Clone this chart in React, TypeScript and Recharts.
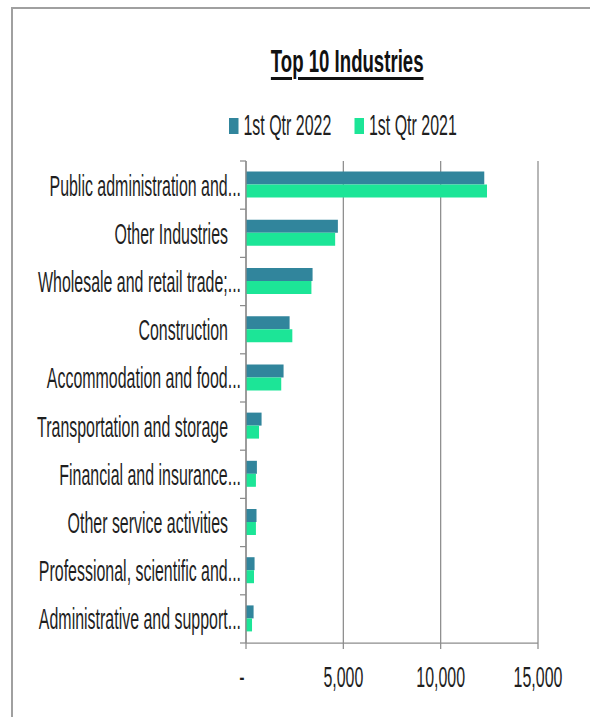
import React from 'react';
import { BarChart, Bar, XAxis, YAxis, CartesianGrid } from 'recharts';

const categories = [
  'Public administration and...',
  'Other Industries',
  'Wholesale and retail trade;...',
  'Construction',
  'Accommodation and food...',
  'Transportation and storage',
  'Financial and insurance...',
  'Other service activities',
  'Professional, scientific and...',
  'Administrative and support...',
];
const q1_2022 = [12240, 4720, 3420, 2240, 1930, 800, 560, 540, 440, 390];
const q1_2021 = [12380, 4580, 3360, 2380, 1810, 670, 510, 510, 410, 310];
const xTicks = [0, 5000, 10000, 15000];
const seriesNames = ['1st Qtr 2022', '1st Qtr 2021'];
const seriesKeys = ['q2022', 'q2021'];
const seriesColors = ['#31859C', '#1CE597'];
const title = 'Top 10 Industries';

const data = categories.map((name, i) => ({ name, q2022: q1_2022[i], q2021: q1_2021[i] }));

const FONT = '"Liberation Sans", Arial, sans-serif';
const FS = 29.5;
const SX = 0.541;
const TEXT = '#1f1f1f';
const GRID = '#8c8c8c';

const YTick = (props: any) => {
  const { x, y, payload, index, height } = props;
  const label: string = String(payload.value);
  const trunc = label.endsWith('...');
  const off = payload.offset != null ? payload.offset : height / (2 * categories.length);
  const axisX = x + 18;
  return (
    <g>
      <line x1={axisX - 6} x2={axisX} y1={y - off} y2={y - off} stroke={GRID} strokeWidth={1.25} />
      {index === categories.length - 1 && (
        <line x1={axisX - 6} x2={axisX} y1={y + off} y2={y + off} stroke={GRID} strokeWidth={1.25} />
      )}
      <g transform={`translate(${trunc ? x + 13 : x},${y}) scale(${SX},1)`}>
        <text x={0} y={0} dy="0.355em" textAnchor="end" fontSize={FS} fill={TEXT} fontFamily={FONT}>
          {label}
        </text>
      </g>
    </g>
  );
};

const XTick = (props: any) => {
  const { x, y, payload } = props;
  const v = Number(payload.value);
  const s = v === 0 ? '-' : v.toLocaleString('en-US');
  return (
    <g transform={`translate(${v === 0 ? x - 4 : x},${y}) scale(${SX},1)`}>
      <text x={0} y={0} dy="0.71em" textAnchor="middle" fontSize={FS} fill={TEXT} fontFamily={FONT}>
        {s}
      </text>
    </g>
  );
};

const legendX = [229, 354.5];

export default function App() {
  return (
    <div
      style={{
        position: 'fixed',
        left: 0,
        top: 0,
        width: 590,
        height: 717,
        overflow: 'hidden',
        background: '#fff',
      }}
    >
      <div
        style={{
          position: 'absolute',
          left: 11,
          top: 7,
          width: 700,
          height: 800,
          border: '2px solid #a0a0a0',
          boxSizing: 'border-box',
        }}
      />
      <div
        style={{
          position: 'absolute',
          left: 47.5,
          width: 600,
          top: 45,
          textAlign: 'center',
          lineHeight: '34px',
        }}
      >
        <span
          style={{
            display: 'inline-block',
            transform: `scaleX(0.6)`,
            fontFamily: FONT,
            fontWeight: 'bold',
            fontSize: 31,
            color: '#111',
            textDecoration: 'underline',
            textDecorationThickness: '2.5px',
            textUnderlineOffset: '5px',
          }}
        >
          {title}
        </span>
      </div>
      <svg style={{ position: 'absolute', left: 0, top: 0 }} width={590} height={160}>
        {seriesNames.map((n, i) => (
          <g key={n}>
            <rect x={legendX[i]} y={118} width={9.5} height={16} fill={seriesColors[i]} />
            <g transform={`translate(${legendX[i] + 14.5},135) scale(${SX},1)`}>
              <text x={0} y={0} fontSize={FS} fill={TEXT} fontFamily={FONT}>
                {n}
              </text>
            </g>
          </g>
        ))}
      </svg>
      <div style={{ position: 'absolute', left: 0, top: 0 }}>
        <BarChart
          width={590}
          height={717}
          data={data}
          layout="vertical"
          margin={{ top: 161, right: 52, bottom: 34, left: 0 }}
          barCategoryGap="22%"
          barGap={0}
        >
          <CartesianGrid horizontal={false} vertical stroke={GRID} strokeWidth={1.25} />
          <XAxis
            type="number"
            domain={[0, 15000]}
            ticks={xTicks}
            interval={0}
            height={40}
            tickSize={6}
            tickMargin={17}
            axisLine={{ stroke: GRID, strokeWidth: 1.25 }}
            tickLine={{ stroke: GRID, strokeWidth: 1.25 }}
            tick={<XTick />}
          />
          <YAxis
            type="category"
            dataKey="name"
            width={246}
            interval={0}
            tickSize={0}
            tickMargin={18}
            tickLine={false}
            axisLine={{ stroke: GRID, strokeWidth: 1.25 }}
            tick={<YTick />}
          />
          {seriesKeys.map((k, i) => (
            <Bar key={k} dataKey={k} name={seriesNames[i]} fill={seriesColors[i]} isAnimationActive={false} />
          ))}
        </BarChart>
      </div>
    </div>
  );
}
